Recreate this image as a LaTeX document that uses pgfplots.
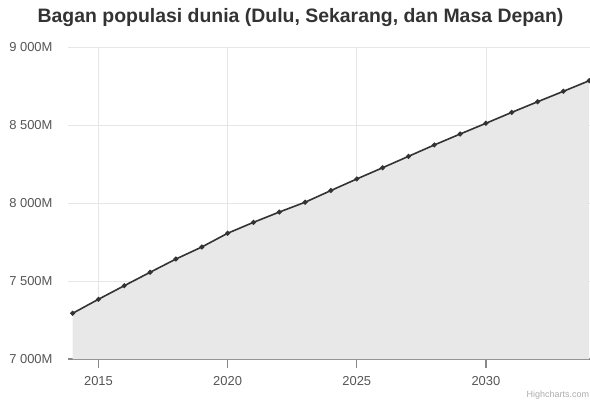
\documentclass[border=0pt]{standalone}
\usepackage{pgfplots}
\pgfplotsset{compat=1.18}
\usepackage{fontspec}
\setmainfont{Liberation Sans}
\definecolor{gridc}{HTML}{E6E6E6}
\definecolor{areac}{HTML}{E8E8E8}
\definecolor{linec}{HTML}{333333}
\definecolor{labc}{HTML}{555555}
\definecolor{axc}{HTML}{888888}
\pgfplotstableread{
year pop
2014 7293
2015 7383
2016 7470
2017 7556
2018 7641
2019 7718
2020 7806
2021 7876
2022 7942
2023 8005
2024 8080
2025 8154
2026 8226
2027 8299
2028 8372
2029 8442
2030 8511
2031 8581
2032 8649
2033 8716
2034 8784
}\popdata
\begin{document}
\begin{tikzpicture}[x=1bp,y=1bp]
\useasboundingbox (0,0) rectangle (590,399);
\begin{axis}[
  at={(68bp,40bp)}, anchor=south west,
  scale only axis, width=522bp, height=312bp,
  xmin=2013.82, xmax=2034.03, ymin=7000, ymax=9000,
  xtick={2015,2020,2025,2030},
  xticklabels={2015,2020,2025,2030},
  ytick={7000,7500,8000,8500,9000},
  yticklabels={7 000M,7 500M,8 000M,8 500M,9 000M},
  grid=major,
  major grid style={draw=gridc, line width=0.8bp},
  separate axis lines,
  axis x line*=bottom,
  axis y line*=left,
  y axis line style={draw=none},
  x axis line style={draw=axc, line width=1.5bp},
  ytick style={draw=none},
  xtick style={draw=axc, line width=1.2bp},
  tick align=outside,
  major tick length=9bp,
  ticklabel style={font=\fontsize{13}{15}\selectfont, text=labc},
  yticklabel style={xshift=-3bp},
  xticklabel style={yshift=-5bp},
  axis on top=false,
]
\addplot[fill=areac, draw=none] table[x=year,y=pop]{\popdata} \closedcycle;
\addplot[draw=linec, line width=1.6bp, mark=*, mark size=1.6bp, mark options={fill=linec, draw=linec}] table[x=year,y=pop]{\popdata};
\end{axis}
\node[font=\bfseries\fontsize{19.5}{22}\selectfont, text=linec] at (300.5,381.5) {Bagan populasi dunia (Dulu, Sekarang, dan Masa Depan)};
\node[anchor=west, inner sep=0pt, font=\fontsize{9}{11}\selectfont, text=gray!65] at (526.5,4) {Highcharts.com};
\end{tikzpicture}
\end{document}
